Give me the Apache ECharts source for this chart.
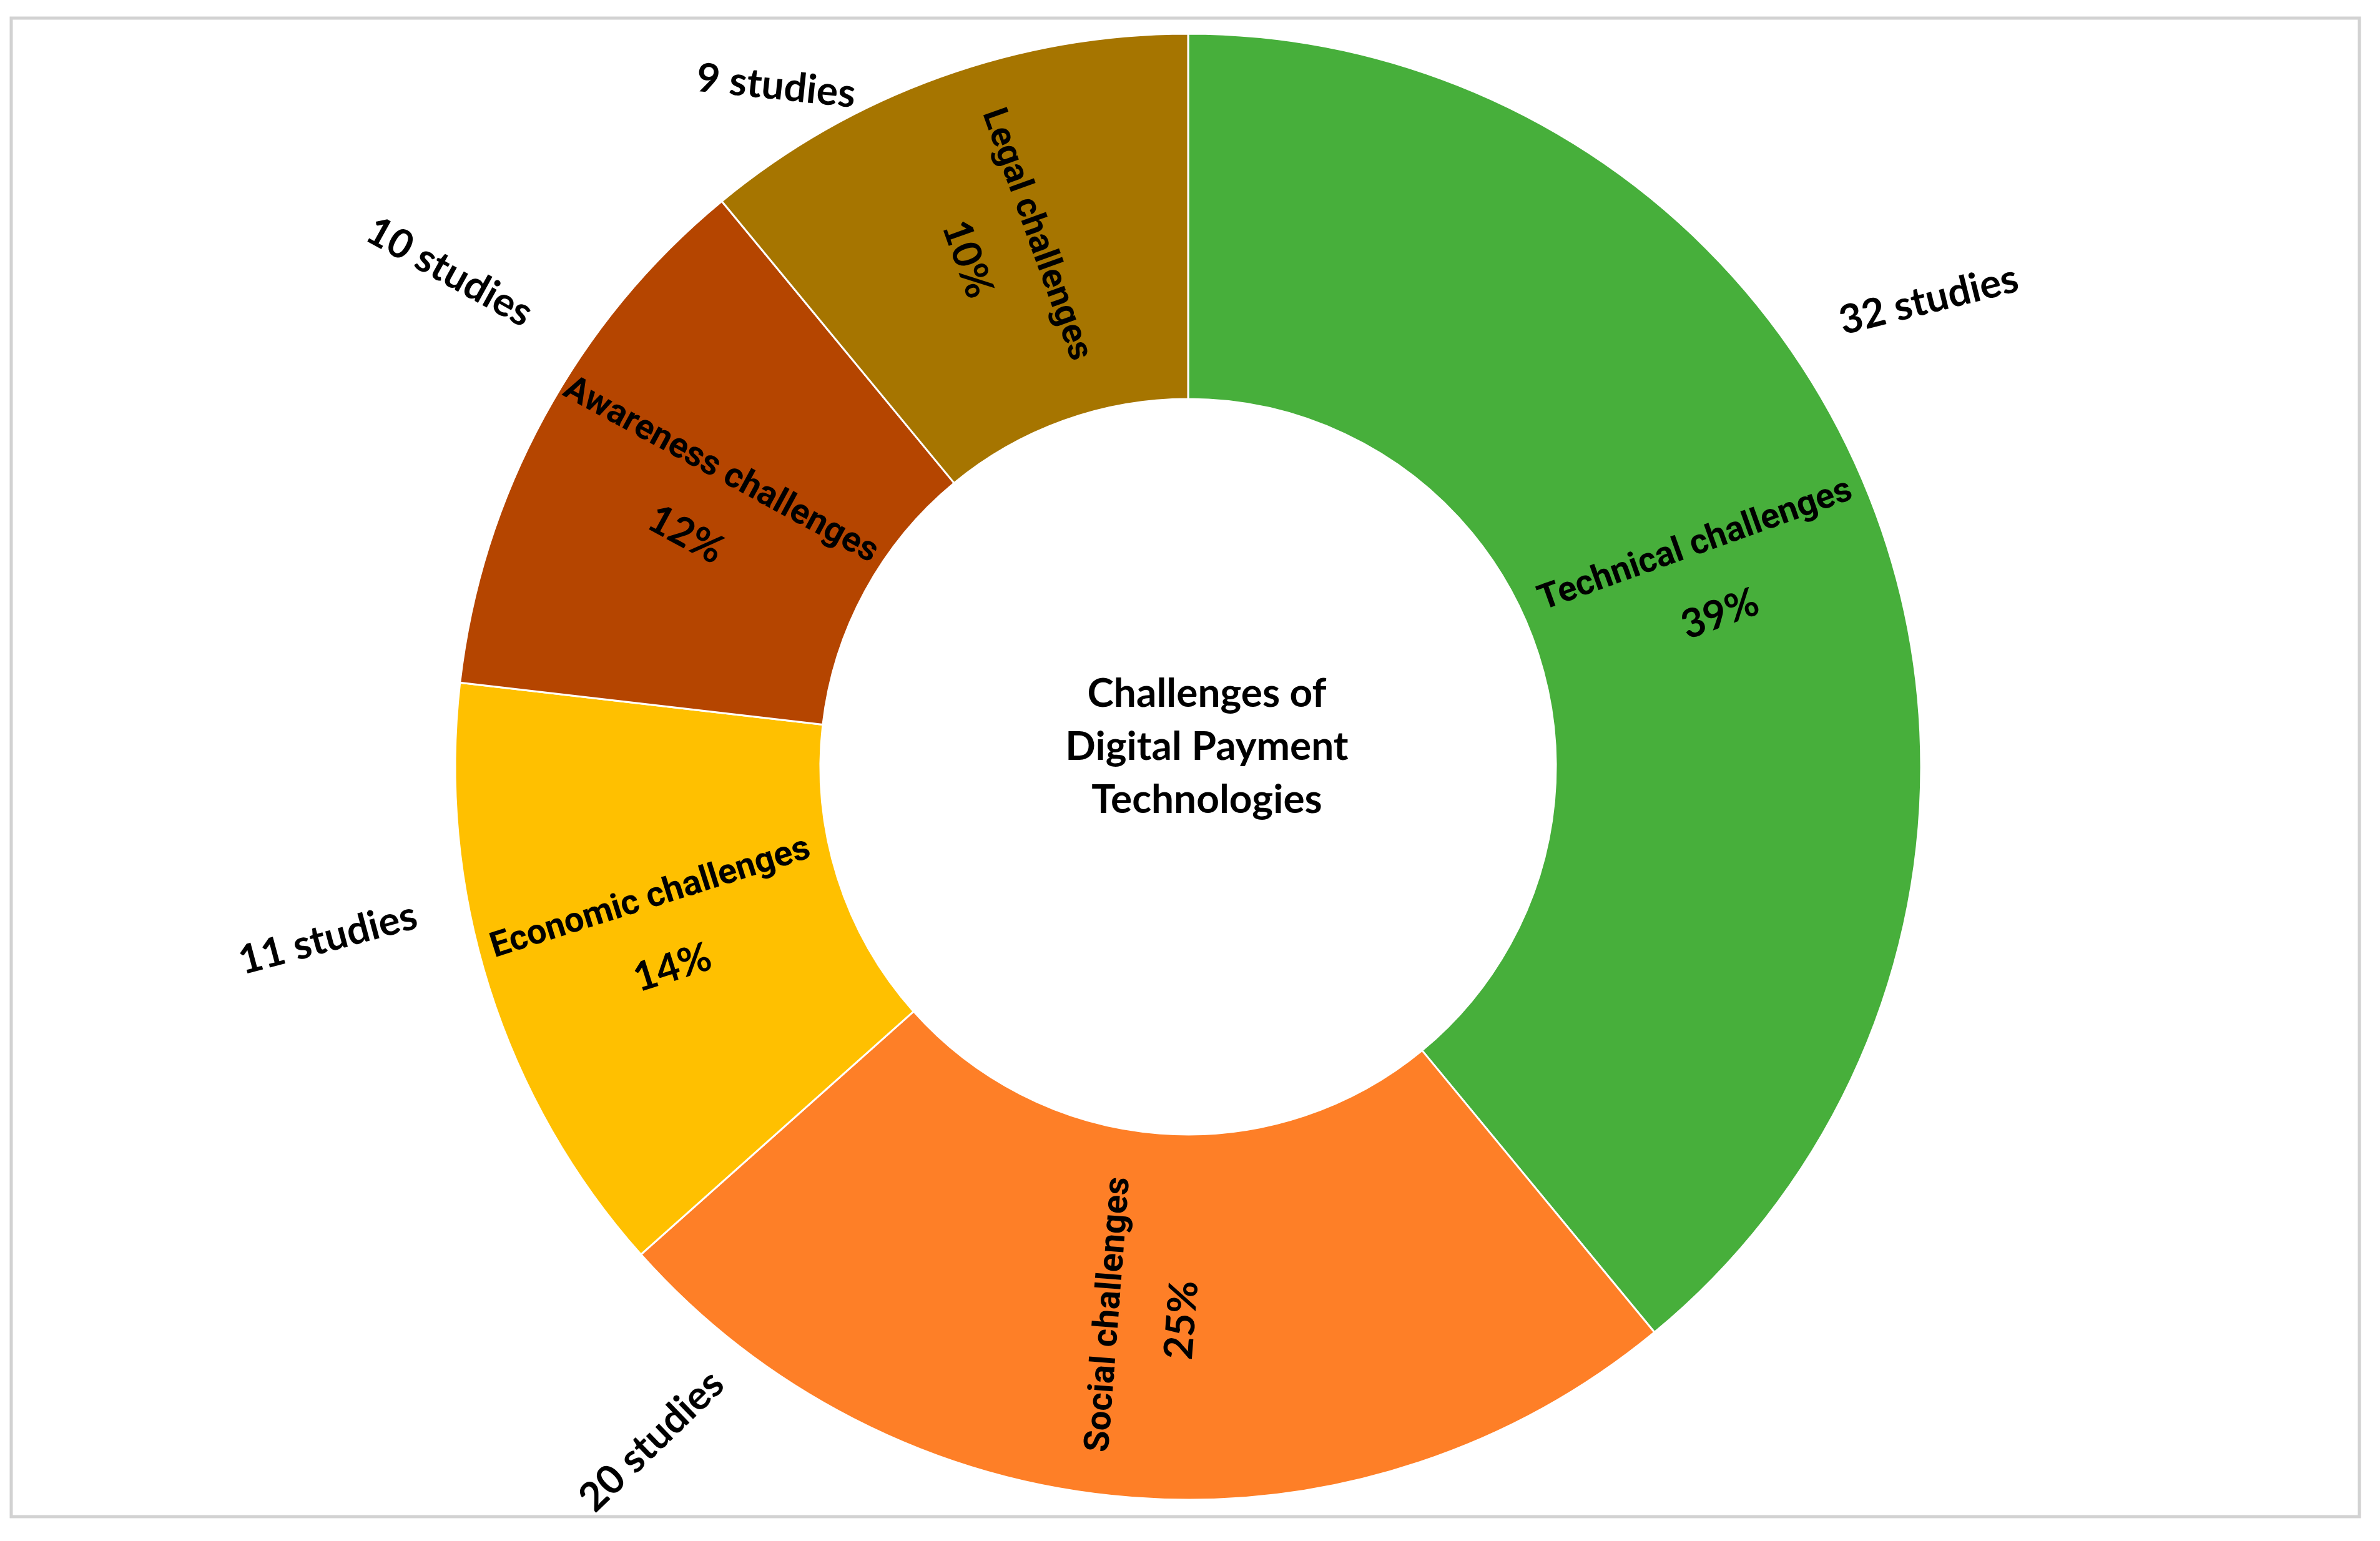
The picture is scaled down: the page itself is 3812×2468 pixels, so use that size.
<!DOCTYPE html>
<html>
<head>
<meta charset="utf-8">
<title>Challenges of Digital Payment Technologies</title>
<script src="https://cdn.jsdelivr.net/npm/echarts@6/dist/echarts.min.js"></script>
<style>
    html, body { margin: 0; padding: 0; background: #fff; }
    #chart { width: 3812px; height: 2468px; }
</style>
</head>
<body>
<div id="chart"></div>
<script>
// data
const categories = ['Technical challenges', 'Social challenges', 'Economic challenges', 'Awareness challenges', 'Legal challenges'];
const studies = [32, 20, 11, 10, 9];
const shareLabels = ['39%', '25%', '14%', '12%', '10%'];
const centerTitle = ['Challenges of', 'Digital Payment', 'Technologies'];

// styling
const colors = ['#47AF3B', '#FE7F27', '#FFC000', '#B54500', '#A67500'];
const CX = 1903, CY = 1228, R0 = 589, R1 = 1174;
// where each "N studies" tag sits: angle from 12 o'clock (clockwise), distance from centre, tilt
const tagSpots = [
    { angle: 57.8, dist: 1402, rotate: 14 },
    { angle: 218.5, dist: 1380, rotate: 44 },
    { angle: 258.7, dist: 1405, rotate: 15 },
    { angle: 303.8, dist: 1424, rotate: -29 },
    { angle: 328.8, dist: 1274, rotate: -6 },
];

const myChart = echarts.init(document.getElementById('chart'));

const pieData = categories.map((name, i) => ({
    name,
    value: studies[i],
    itemStyle: { color: colors[i] },
}));

myChart.setOption({
    animation: false,
    backgroundColor: '#fff',
    graphic: [
        {
            type: 'rect',
            shape: { x: 18, y: 29, width: 3761, height: 2400 },
            style: { fill: 'none', stroke: '#d2d2d2', lineWidth: 5 },
            silent: true,
        },
        {
            type: 'text',
            z: 10,
            style: {
                text: centerTitle.join('\n'),
                x: 1933,
                y: 1196,
                align: 'center',
                verticalAlign: 'middle',
                fontFamily: 'Lato',
                fontWeight: 'bold',
                fontSize: 64,
                lineHeight: 85,
                fill: '#000',
            },
        },
    ],
    series: [
        {
            type: 'pie',
            center: [CX, CY],
            radius: [R0, R1],
            startAngle: 90,
            clockwise: true,
            avoidLabelOverlap: false,
            data: pieData,
            itemStyle: { borderColor: '#fff', borderWidth: 3 },
            label: {
                show: true,
                position: 'inside',
                rotate: 'radial',
                formatter: (p) => `{n|${p.name}}\n{p|${shareLabels[p.dataIndex]}}`,
                rich: {
                    n: { fontFamily: 'Roboto', fontWeight: 'bold', fontSize: 56, lineHeight: 116, color: '#000' },
                    p: { fontFamily: 'Lato', fontWeight: 'bold', fontSize: 64, lineHeight: 116, color: '#000' },
                },
            },
            labelLine: { show: false },
            emphasis: { disabled: true },
        },
        {
            // invisible twin ring that only carries the "N studies" tags
            type: 'pie',
            center: [CX, CY],
            radius: [R0, R1],
            startAngle: 90,
            clockwise: true,
            silent: true,
            avoidLabelOverlap: false,
            data: pieData.map((d) => ({ name: d.name, value: d.value })),
            itemStyle: { color: 'transparent', borderWidth: 0 },
            label: {
                show: true,
                position: 'outside',
                formatter: (p) => p.value + ' studies',
                fontFamily: 'Lato',
                fontWeight: 'bold',
                fontSize: 64,
                color: '#000',
            },
            labelLine: { show: false },
            labelLayout(params) {
                const s = tagSpots[params.dataIndex];
                const a = (s.angle * Math.PI) / 180;
                return {
                    x: CX + s.dist * Math.sin(a),
                    y: CY - s.dist * Math.cos(a),
                    rotate: s.rotate,
                    align: 'center',
                    verticalAlign: 'middle',
                };
            },
            emphasis: { disabled: true },
        },
    ],
});
</script>
</body>
</html>
